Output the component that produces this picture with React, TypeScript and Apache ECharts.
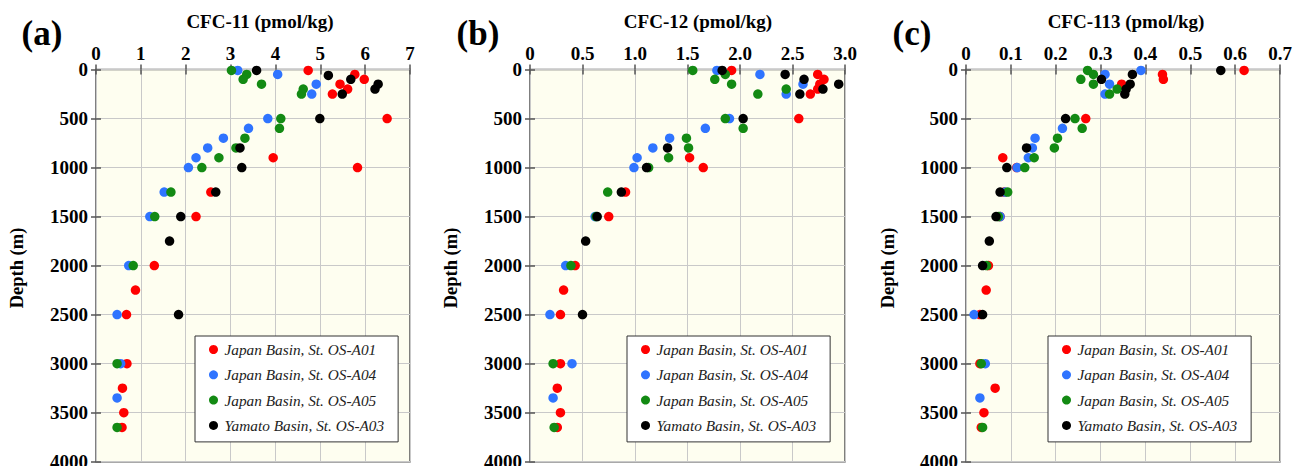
import React, { useEffect, useRef } from "react";
import * as echarts from "echarts";

// ---------- data: [concentration, depth (m)] ----------
const stationNames = [
  "Japan Basin, St. OS-A01",
  "Japan Basin, St. OS-A04",
  "Japan Basin, St. OS-A05",
  "Yamato Basin, St. OS-A03",
];
const stationColors = ["#ff0000", "#2f74ff", "#138a13", "#000000"];

const cfc11_A01 = [[4.73,10],[5.77,50],[5.98,100],[5.44,150],[5.61,200],[5.27,250],[6.49,500],[3.95,900],[5.83,1000],[2.56,1250],[2.23,1500],[1.30,2000],[0.88,2250],[0.68,2500],[0.69,3000],[0.59,3250],[0.62,3500],[0.58,3650]];
const cfc11_A04 = [[3.16,10],[4.05,50],[4.91,150],[4.81,250],[3.83,500],[3.40,600],[2.84,700],[2.49,800],[2.23,900],[2.06,1000],[1.52,1250],[1.20,1500],[0.73,2000],[0.47,2500],[0.55,3000],[0.47,3350]];
const cfc11_A05 = [[3.02,10],[3.36,50],[3.28,100],[3.69,150],[4.62,200],[4.58,250],[4.12,500],[4.09,600],[3.32,700],[3.12,800],[2.74,900],[2.36,1000],[1.67,1250],[1.31,1500],[0.83,2000],[0.47,3000],[0.47,3650]];
const cfc11_A03 = [[3.58,10],[5.18,60],[5.68,100],[6.29,150],[6.22,200],[5.49,250],[4.99,500],[3.21,800],[3.25,1000],[2.67,1250],[1.89,1500],[1.64,1750],[1.84,2500]];

const cfc12_A01 = [[1.92,10],[2.74,50],[2.80,100],[2.76,150],[2.74,200],[2.67,250],[2.56,500],[1.52,900],[1.65,1000],[0.91,1250],[0.75,1500],[0.43,2000],[0.32,2250],[0.29,2500],[0.29,3000],[0.26,3250],[0.29,3500],[0.26,3650]];
const cfc12_A04 = [[1.78,10],[2.19,50],[2.60,150],[2.44,250],[1.90,500],[1.67,600],[1.33,700],[1.17,800],[1.02,900],[0.99,1000],[0.62,1500],[0.34,2000],[0.19,2500],[0.40,3000],[0.22,3350]];
const cfc12_A05 = [[1.55,10],[1.86,50],[1.76,100],[1.92,150],[2.44,200],[2.17,250],[1.86,500],[2.03,600],[1.49,700],[1.51,800],[1.32,900],[1.13,1000],[0.74,1250],[0.63,1500],[0.39,2000],[0.22,3000],[0.23,3650]];
const cfc12_A03 = [[1.83,10],[2.43,50],[2.61,100],[2.94,150],[2.79,200],[2.57,250],[2.03,500],[1.31,800],[1.11,1000],[0.87,1250],[0.64,1500],[0.53,1750],[0.50,2500]];

const cfc113_A01 = [[0.62,10],[0.438,50],[0.44,100],[0.347,150],[0.267,500],[0.082,900],[0.113,1000],[0.085,1250],[0.076,1500],[0.05,2000],[0.045,2250],[0.031,2500],[0.031,3000],[0.065,3250],[0.04,3500],[0.034,3650]];
const cfc113_A04 = [[0.39,10],[0.31,50],[0.32,150],[0.31,250],[0.215,600],[0.154,700],[0.148,800],[0.139,900],[0.114,1000],[0.087,1250],[0.076,1500],[0.018,2500],[0.043,3000],[0.031,3350]];
const cfc113_A05 = [[0.271,10],[0.284,50],[0.256,100],[0.284,150],[0.337,200],[0.32,250],[0.243,500],[0.259,600],[0.204,700],[0.197,800],[0.152,900],[0.131,1000],[0.093,1250],[0.072,1500],[0.046,2000],[0.034,3000],[0.037,3650]];
const cfc113_A03 = [[0.568,10],[0.371,50],[0.302,100],[0.366,150],[0.357,200],[0.354,250],[0.222,500],[0.135,800],[0.091,1000],[0.076,1250],[0.067,1500],[0.052,1750],[0.037,2000],[0.037,2500]];

const cfc11Ticks = ["0", "1", "2", "3", "4", "5", "6", "7"];
const cfc12Ticks = ["0", "0.5", "1.0", "1.5", "2.0", "2.5", "3.0"];
const cfc113Ticks = ["0", "0.1", "0.2", "0.3", "0.4", "0.5", "0.6", "0.7"];
const depthTicks = ["0", "500", "1000", "1500", "2000", "2500", "3000", "3500", "4000"];

const panelTitles = ["CFC-11 (pmol/kg)", "CFC-12 (pmol/kg)", "CFC-113 (pmol/kg)"];
const panelLetters = ["(a)", "(b)", "(c)"];

// ---------- layout ----------
const FONT = "Liberation Serif, Times New Roman, serif";
const panels = [
  { left: 96, right: 410, xMax: 7, xInt: 1, ticks: cfc11Ticks, data: [cfc11_A01, cfc11_A04, cfc11_A05, cfc11_A03], letterX: 42, titleX: 260, depthX: 17, legendLeft: 195 },
  { left: 530, right: 845, xMax: 3, xInt: 0.5, ticks: cfc12Ticks, data: [cfc12_A01, cfc12_A04, cfc12_A05, cfc12_A03], letterX: 478, titleX: 698, depthX: 451, legendLeft: 627 },
  { left: 966, right: 1280, xMax: 0.7, xInt: 0.1, ticks: cfc113Ticks, data: [cfc113_A01, cfc113_A04, cfc113_A05, cfc113_A03], letterX: 912, titleX: 1126, depthX: 888, legendLeft: 1048 },
];
const W = 1307;
const H = 466;
const TOP = 69.5;
const BOTTOM = 461.7;

export default function App() {
  const ref = useRef<HTMLDivElement>(null);
  useEffect(() => {
    if (!ref.current) return;
    const chart = echarts.init(ref.current, null, { renderer: "svg" });
    const grids: any[] = [];
    const xAxes: any[] = [];
    const yAxes: any[] = [];
    const series: any[] = [];
    const legends: any[] = [];
    const graphics: any[] = [];
    const tickStyle = { show: true, inside: true, length: 5, lineStyle: { color: "#555", width: 1.5 } };
    const labelFont = { fontFamily: FONT, fontWeight: "bold", fontSize: 19, color: "#000" };

    panels.forEach((p, i) => {
      grids.push({
        left: p.left,
        top: TOP,
        width: p.right - p.left,
        height: BOTTOM - TOP,
        show: true,
        backgroundColor: "#fefef0",
        borderColor: "#555",
        borderWidth: 1.5,
        outerBoundsMode: "none",
      });
      const ticks = p.ticks;
      xAxes.push({
        type: "value", gridIndex: i, position: "top", min: 0, max: p.xMax, interval: p.xInt,
        axisLine: { show: false }, axisTick: tickStyle,
        axisLabel: { ...labelFont, margin: 7, formatter: (_v: number, idx: number) => ticks[idx] ?? "" },
        splitLine: { show: true, lineStyle: { color: "#c9c9c9", width: 1 } },
      });
      xAxes.push({
        type: "value", gridIndex: i, position: "bottom", min: 0, max: p.xMax, interval: p.xInt,
        axisLine: { show: false }, axisTick: tickStyle, axisLabel: { show: false }, splitLine: { show: false },
      });
      yAxes.push({
        type: "value", gridIndex: i, position: "left", inverse: true, min: 0, max: 4000, interval: 500,
        axisLine: { show: false }, axisTick: tickStyle,
        axisLabel: { ...labelFont, margin: 8, formatter: (_v: number, idx: number) => depthTicks[idx] ?? "" },
        splitLine: { show: true, lineStyle: { color: "#c9c9c9", width: 1 } },
      });
      yAxes.push({
        type: "value", gridIndex: i, position: "right", inverse: true, min: 0, max: 4000, interval: 500,
        axisLine: { show: false }, axisTick: tickStyle, axisLabel: { show: false }, splitLine: { show: false },
      });
      p.data.forEach((d, s) => {
        series.push({
          type: "scatter",
          name: stationNames[s],
          xAxisIndex: i * 2,
          yAxisIndex: i * 2,
          data: d,
          symbol: "circle",
          symbolSize: 9.5,
          itemStyle: { color: stationColors[s], opacity: 1 },
          emphasis: { disabled: true },
          z: 2 + s,
        });
      });
      legends.push({
        data: stationNames.map((n) => ({ name: n, icon: "circle" })),
        orient: "vertical",
        left: p.legendLeft,
        top: 336,
        itemWidth: 12,
        itemHeight: 9,
        itemGap: 10.3,
        padding: [6, 14, 9, 14],
        backgroundColor: "#ffffff",
        borderColor: "#333",
        borderWidth: 1,
        borderRadius: 0,
        selectedMode: false,
        textStyle: { fontFamily: FONT, fontStyle: "italic", fontSize: 15.3, color: "#222" },
      });
      graphics.push({
        type: "text", x: p.letterX, y: 33,
        style: { text: panelLetters[i], font: `bold 35px ${FONT}`, fill: "#000", textAlign: "center", textVerticalAlign: "middle" },
      });
      graphics.push({
        type: "text", x: p.titleX, y: 21,
        style: { text: panelTitles[i], font: `bold 19px ${FONT}`, fill: "#000", textAlign: "center", textVerticalAlign: "middle" },
      });
      graphics.push({
        type: "text", x: p.depthX, y: 268, rotation: Math.PI / 2,
        style: { text: "Depth (m)", font: `bold 18.5px ${FONT}`, fill: "#000", textAlign: "center", textVerticalAlign: "middle" },
      });
    });

    chart.setOption({
      animation: false,
      backgroundColor: "#ffffff",
      grid: grids,
      xAxis: xAxes,
      yAxis: yAxes,
      series,
      legend: legends,
      graphic: graphics,
    });
    return () => chart.dispose();
  }, []);
  return <div ref={ref} style={{ position: "fixed", left: 0, top: 0, width: W, height: H }} />;
}
